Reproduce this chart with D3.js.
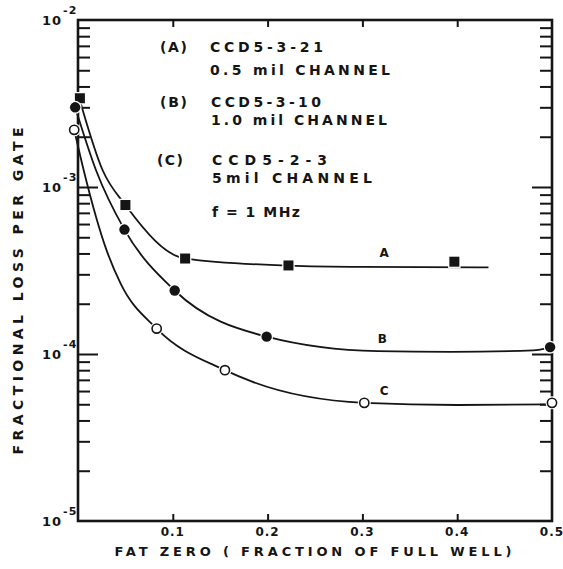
<!DOCTYPE html>
<html>
<head>
<meta charset="utf-8">
<script src="https://cdnjs.cloudflare.com/ajax/libs/d3/7.8.5/d3.min.js"></script>
<style>
  body { margin: 0; background: #fff; }
  svg text { font-family: "DejaVu Sans", sans-serif; font-weight: bold; fill: #151515; }
</style>
</head>
<body>
<svg id="plot"></svg>
<script>
"use strict";

// measured points (fat zero fraction, fractional loss per gate)
const fatZeroA = [0.002, 0.050, 0.113, 0.222, 0.397];
const lossA    = [3.4e-3, 7.8e-4, 3.73e-4, 3.39e-4, 3.57e-4];
const fatZeroB = [-0.003, 0.049, 0.102, 0.199, 0.498];
const lossB    = [3.0e-3, 5.56e-4, 2.4e-4, 1.27e-4, 1.1e-4];
const fatZeroC = [-0.004, 0.083, 0.155, 0.302, 0.500];
const lossC    = [2.2e-3, 1.42e-4, 8.0e-5, 5.1e-5, 5.1e-5];

// hand drawn curves
const curveXA = [0.002, 0.026, 0.050, 0.113, 0.222, 0.300, 0.433];
const curveYA = [3.3e-3, 1.26e-3, 7.8e-4, 3.73e-4, 3.38e-4, 3.32e-4, 3.3e-4];
const curveXB = [-0.003, 0.019, 0.049, 0.102, 0.199, 0.316, 0.393, 0.480, 0.498];
const curveYB = [3.0e-3, 1.26e-3, 5.56e-4, 2.4e-4, 1.27e-4, 1.04e-4, 1.03e-4, 1.05e-4, 1.1e-4];
const curveXC = [-0.004, 0.006, 0.030, 0.045, 0.083, 0.155, 0.183, 0.302, 0.400, 0.500];
const curveYC = [2.2e-3, 1.26e-3, 4.2e-4, 2.64e-4, 1.42e-4, 8.0e-5, 6.85e-5, 5.1e-5, 4.95e-5, 5.0e-5];

const xTicks = [0.1, 0.2, 0.3, 0.4, 0.5];
const xTickLabels = ["0.1", "0.2", "0.3", "0.4", "0.5"];
const decades = [1e-2, 1e-3, 1e-4, 1e-5];
const decadeExponents = ["-2", "-3", "-4", "-5"];

const width = 563, height = 569;
const margins = {top: 20, right: 11, bottom: 48, left: 78};

const svg = d3.select("#plot").attr("width", width).attr("height", height);
svg.append("rect").attr("width", width).attr("height", height).attr("fill", "white");

const x_scale = d3.scaleLinear().domain([0, 0.5]).range([margins.left, width - margins.right]);
const y_scale = d3.scaleLog().domain([1e-5, 1e-2]).range([height - margins.bottom, margins.top]);

const ink = "#151515";

// minor log ticks 2..9 in each decade
const minorTicks = [];
[1e-5, 1e-4, 1e-3].forEach(function (d) {
    for (let k = 2; k <= 9; k++) minorTicks.push(d * k);
});
const innerDecades = [1e-3, 1e-4];

function styleAxis(g) {
    g.select(".domain").remove();
    g.selectAll("line").attr("stroke", ink).attr("stroke-width", 2);
}

// left axis ticks point inward
svg.append("g").attr("transform", "translate(" + x_scale(0) + ",0)")
    .call(d3.axisLeft(y_scale).tickValues(minorTicks).tickSize(-12).tickFormat(""))
    .call(styleAxis);
svg.append("g").attr("transform", "translate(" + x_scale(0) + ",0)")
    .call(d3.axisLeft(y_scale).tickValues(innerDecades).tickSize(-20).tickFormat(""))
    .call(styleAxis);
// right axis
svg.append("g").attr("transform", "translate(" + x_scale(0.5) + ",0)")
    .call(d3.axisRight(y_scale).tickValues(minorTicks).tickSize(-12).tickFormat(""))
    .call(styleAxis);
svg.append("g").attr("transform", "translate(" + x_scale(0.5) + ",0)")
    .call(d3.axisRight(y_scale).tickValues(innerDecades).tickSize(-20).tickFormat(""))
    .call(styleAxis);
// top and bottom
svg.append("g").attr("transform", "translate(0," + y_scale(1e-2) + ")")
    .call(d3.axisTop(x_scale).tickValues(xTicks.slice(0, 4)).tickSize(-7).tickFormat(""))
    .call(styleAxis);
svg.append("g").attr("transform", "translate(0," + y_scale(1e-5) + ")")
    .call(d3.axisBottom(x_scale).tickValues(xTicks.slice(0, 4)).tickSize(-7).tickFormat(""))
    .call(styleAxis);

// frame
svg.append("rect")
    .attr("x", x_scale(0)).attr("y", y_scale(1e-2))
    .attr("width", x_scale(0.5) - x_scale(0))
    .attr("height", y_scale(1e-5) - y_scale(1e-2))
    .attr("fill", "none").attr("stroke", ink).attr("stroke-width", 2.6);

// x tick labels
svg.selectAll(".xlab").data(xTicks).enter().append("text")
    .attr("x", function (d) { return x_scale(d); })
    .attr("y", y_scale(1e-5) + 15)
    .attr("text-anchor", "middle")
    .attr("font-size", 12)
    .attr("letter-spacing", 1)
    .text(function (d, i) { return xTickLabels[i]; });

// y tick labels: 10 with superscript exponent
decades.forEach(function (d, i) {
    const yy = y_scale(d);
    const t = svg.append("text").attr("x", 42).attr("y", yy + 5)
        .attr("font-size", 13).attr("letter-spacing", 1);
    t.append("tspan").text("10");
    t.append("tspan").attr("dx", 1).attr("dy", -11).attr("font-size", 11)
        .text(decadeExponents[i]);
});

// axis titles
svg.append("text")
    .attr("x", 313).attr("y", 556)
    .attr("text-anchor", "middle").attr("font-size", 13)
    .attr("textLength", 397).attr("lengthAdjust", "spacing")
    .text("FAT ZERO ( FRACTION OF FULL WELL)");
svg.append("text")
    .attr("transform", "translate(23,291) rotate(-90)")
    .attr("text-anchor", "middle").attr("font-size", 14)
    .attr("textLength", 327).attr("lengthAdjust", "spacing")
    .text("FRACTIONAL LOSS PER GATE");

// legend block
const legendLines = [
    {x: 160, y: 52, w: 27, t: "(A)"},
    {x: 210, y: 52, w: 113, t: "CCD5-3-21"},
    {x: 210, y: 75, w: 180, t: "0.5 mil CHANNEL"},
    {x: 160, y: 107, w: 27, t: "(B)"},
    {x: 211, y: 107, w: 110, t: "CCD5-3-10"},
    {x: 211, y: 125, w: 176, t: "1.0 mil CHANNEL"},
    {x: 157, y: 165, w: 26, t: "(C)"},
    {x: 212, y: 165, w: 115, t: "CCD5-2-3"},
    {x: 212, y: 183, w: 160, t: "5mil CHANNEL"},
    {x: 212, y: 217, w: 88, t: "f = 1 MHz"}
];
svg.selectAll(".leg").data(legendLines).enter().append("text")
    .attr("x", function (d) { return d.x; })
    .attr("y", function (d) { return d.y; })
    .attr("font-size", 14)
    .attr("textLength", function (d) { return d.w; })
    .attr("lengthAdjust", "spacing")
    .text(function (d) { return d.t; });

// curves
const line = d3.line()
    .curve(d3.curveMonotoneX)
    .x(function (d) { return x_scale(d[0]); })
    .y(function (d) { return y_scale(d[1]); });

function zip(xs, ys) { return xs.map(function (v, i) { return [v, ys[i]]; }); }

[[curveXA, curveYA], [curveXB, curveYB], [curveXC, curveYC]].forEach(function (c) {
    svg.append("path")
        .datum(zip(c[0], c[1]))
        .attr("d", line)
        .attr("fill", "none")
        .attr("stroke", ink)
        .attr("stroke-width", 1.8);
});

// curve letters
const curveLabels = [
    {x: 0.323, y: 3.8e-4, t: "A"},
    {x: 0.321, y: 1.17e-4, t: "B"},
    {x: 0.323, y: 5.65e-5, t: "C"}
];
svg.selectAll(".clab").data(curveLabels).enter().append("text")
    .attr("x", function (d) { return x_scale(d.x); })
    .attr("y", function (d) { return y_scale(d.y); })
    .attr("text-anchor", "middle")
    .attr("font-size", 12)
    .text(function (d) { return d.t; });

// markers, with a white halo so the curve breaks around them
const ptsA = zip(fatZeroA, lossA), ptsB = zip(fatZeroB, lossB), ptsC = zip(fatZeroC, lossC);

svg.selectAll(".sqA").data(ptsA).enter().append("rect")
    .attr("x", function (d) { return x_scale(d[0]) - 5; })
    .attr("y", function (d) { return y_scale(d[1]) - 5; })
    .attr("width", 10).attr("height", 10)
    .attr("fill", ink).attr("stroke", "white").attr("stroke-width", 2.5)
    .attr("paint-order", "stroke");

svg.selectAll(".dotB").data(ptsB).enter().append("circle")
    .attr("cx", function (d) { return x_scale(d[0]); })
    .attr("cy", function (d) { return y_scale(d[1]); })
    .attr("r", 5.2)
    .attr("fill", ink).attr("stroke", "white").attr("stroke-width", 2.5)
    .attr("paint-order", "stroke");

svg.selectAll(".haloC").data(ptsC).enter().append("circle")
    .attr("cx", function (d) { return x_scale(d[0]); })
    .attr("cy", function (d) { return y_scale(d[1]); })
    .attr("r", 6.5).attr("fill", "white");
svg.selectAll(".dotC").data(ptsC).enter().append("circle")
    .attr("cx", function (d) { return x_scale(d[0]); })
    .attr("cy", function (d) { return y_scale(d[1]); })
    .attr("r", 4.6)
    .attr("fill", "white").attr("stroke", ink).attr("stroke-width", 1.6);
</script>
</body>
</html>
